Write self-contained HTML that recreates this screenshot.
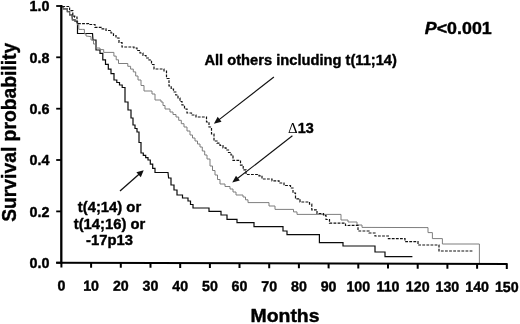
<!DOCTYPE html>
<html><head><meta charset="utf-8"><title>Survival probability</title>
<style>
html,body{margin:0;padding:0;background:#fff}
svg{display:block}
text{font-family:"Liberation Sans",sans-serif;font-weight:bold;fill:#000;stroke:#000;stroke-width:0.4px;stroke-linejoin:round}
</style></head><body>
<svg width="520" height="324" viewBox="0 0 520 324">
<rect width="520" height="324" fill="#fff"/>
<g fill="none" stroke-linejoin="miter">
<path d="M62.3 6.8L63.5 6.8L63.5 8.8L67.3 8.8L67.3 11.6L69.6 11.6L69.6 14.8L72.0 14.8L72.4 19.9L75.1 19.9L75.1 21.3L77.5 21.3L77.5 23.0L77.5 33.5L92.5 33.5L93.0 40.0L96.0 40.0L96.0 50.0L100.0 50.0L100.0 53.3L102.8 53.3L102.8 59.8L105.5 59.8L105.5 64.4L108.3 64.4L108.3 69.1L111.0 69.1L111.0 73.7L114.0 73.7L114.0 80.0L116.8 80.0L116.8 82.5L119.5 82.5L119.5 85.0L122.2 85.0L122.2 87.5L125.0 87.5L125.0 90.0L125.0 102.0L128.0 102.0L128.0 110.0L131.0 110.0L131.0 118.0L133.0 118.0L133.0 125.0L135.0 125.0L135.0 128.5L137.0 128.5L137.0 132.0L139.0 132.0L139.0 142.5L141.0 142.5L141.0 153.0L143.3 153.0L143.3 155.3L145.7 155.3L145.7 157.7L148.0 157.7L148.0 160.0L150.3 160.0L150.3 164.2L152.7 164.2L152.7 168.3L155.0 168.3L155.0 172.5L168.0 172.5L168.6 178.0L171.0 178.0L171.0 185.0L174.0 185.0L174.0 190.0L177.0 190.0L177.0 195.0L182.5 195.0L182.5 198.0L188.0 198.0L188.0 201.0L190.5 201.0L190.5 204.5L193.0 204.5L193.0 208.0L209.0 208.0L209.0 211.4L221.0 211.4L221.0 215.0L227.0 215.0L227.0 219.4L237.0 219.4L237.0 222.6L254.0 222.6L254.0 226.6L283.0 226.6L283.0 231.0L287.0 231.0L287.0 234.6L317.0 234.6L319.4 234.6L319.4 242.6L343.0 242.6L343.0 246.0L375.0 246.0L375.0 252.0L385.0 252.0L385.0 256.6L412.4 256.6" stroke="#0a0a0a" stroke-width="1.2"/>
<path d="M62.3 6.8L63.5 6.8L63.5 8.8L67.3 8.8L67.3 11.6L69.6 11.6L69.6 14.8L72.0 14.8L72.4 19.9L75.1 19.9L75.1 21.3L77.3 21.3L77.3 23.5L77.5 25.0L78.8 25.0L78.8 29.4L82.5 29.4L84.4 29.4L84.4 33.8L86.0 33.8L86.0 36.0L90.0 36.5L91.0 36.5L91.0 40.0L93.5 40.0L93.5 44.0L96.0 44.0L96.0 48.0L100.0 48.0L100.0 49.6L103.7 49.6L103.7 52.4L113.9 52.4L113.9 56.1L116.2 56.1L116.2 59.8L118.5 59.8L118.5 63.5L127.8 63.5L127.8 66.3L130.6 66.3L130.6 69.1L133.3 69.1L133.3 71.9L135.7 71.9L135.7 76.0L138.0 76.0L138.0 80.0L141.0 80.0L141.0 85.5L144.0 85.5L144.0 91.0L152.0 91.0L152.0 94.0L155.0 94.0L155.0 100.0L161.0 100.0L161.0 102.0L163.0 102.0L163.0 105.5L165.0 105.5L165.0 109.0L170.0 109.0L170.0 112.0L173.0 112.0L173.0 114.5L176.0 114.5L176.0 117.0L178.7 117.0L178.7 120.3L181.3 120.3L181.3 123.7L184.0 123.7L184.0 127.0L187.0 127.0L187.0 131.0L190.0 131.0L190.0 135.0L192.5 135.0L192.5 138.0L195.0 138.0L195.0 141.0L197.5 141.0L197.5 144.0L200.0 144.0L200.0 147.0L202.3 147.0L202.3 151.0L204.7 151.0L204.7 155.0L207.0 155.0L207.0 159.0L210.0 159.0L210.0 166.0L212.5 166.0L212.5 170.5L215.0 170.5L215.0 175.0L217.5 175.0L217.5 179.5L220.0 179.5L220.0 184.0L225.0 184.0L225.0 186.5L230.0 186.5L230.0 189.0L233.0 189.0L233.0 192.0L236.0 192.0L236.0 195.0L243.0 195.0L243.0 197.0L245.5 197.0L245.5 199.8L248.0 199.8L248.0 202.6L262.0 202.6L269.0 202.6L269.0 206.0L275.0 206.0L275.0 209.4L290.0 209.4L293.5 209.4L293.5 211.9L297.0 211.9L297.0 214.4L341.0 214.4L341.0 220.0L348.0 220.0L348.0 222.0L357.0 222.0L357.0 225.0L362.0 225.0L362.0 227.4L428.0 227.6L428.0 232.6L432.4 232.6L432.4 238.6L442.4 238.6L442.4 244.0L479.4 244.0L479.4 263.0" stroke="#777" stroke-width="0.95"/>
<path d="M62.3 6.5L69.6 6.5L69.6 10.6L72.8 10.6L72.8 16.2L74.7 16.2L74.7 17.1L77.0 17.1L77.0 19.0L77.0 23.6L84.0 23.6L88.5 23.6L88.5 24.5L95.0 24.5L95.0 27.4L101.0 27.4L101.0 28.8L106.0 28.8L106.0 30.5L111.0 30.5L111.0 33.0L113.5 33.0L113.5 35.5L116.0 35.5L116.0 38.0L119.0 38.0L119.0 42.5L122.0 42.5L122.0 47.0L134.0 47.0L134.0 48.0L137.0 48.0L137.0 50.5L140.0 50.5L140.0 53.0L143.0 53.0L143.0 55.5L146.0 55.5L146.0 58.0L149.0 58.0L149.0 60.0L151.5 60.0L151.5 64.5L154.0 64.5L154.0 69.0L164.0 69.0L164.0 71.0L166.5 71.0L166.5 78.5L169.0 78.5L169.0 86.0L171.2 86.0L171.2 89.0L173.5 89.0L173.5 92.0L175.8 92.0L175.8 95.0L178.0 95.0L178.0 98.0L180.0 98.0L180.0 101.5L182.0 101.5L182.0 105.0L184.5 105.0L184.5 109.0L187.0 109.0L187.0 113.0L191.5 113.0L191.5 115.0L196.0 115.0L196.0 117.0L204.0 117.0L206.5 117.0L206.5 122.0L209.0 122.0L209.0 127.0L211.5 127.0L211.5 134.0L214.0 134.0L214.0 141.0L217.0 141.0L217.0 143.2L220.0 143.2L220.0 145.5L223.0 145.5L223.0 147.8L226.0 147.8L226.0 150.0L228.5 150.0L228.5 152.5L231.0 152.5L231.0 155.0L233.0 155.0L233.0 160.4L237.7 160.4L240.5 160.4L240.5 165.1L243.2 165.1L243.2 169.8L246.0 169.8L246.0 174.5L259.0 174.5L259.0 175.8L262.0 175.8L262.0 179.0L272.0 179.0L272.0 180.8L279.0 180.8L279.0 183.0L284.0 183.0L284.0 185.5L290.5 185.5L290.5 188.0L293.0 188.0L293.0 193.0L295.5 193.0L295.5 198.8L300.0 198.8L300.0 202.0L309.5 202.0L309.5 204.2L311.8 204.2L311.8 209.9L317.0 209.9L317.0 213.5L323.5 213.5L323.5 215.5L326.0 215.5L326.0 219.5L329.5 219.5L329.5 223.2L343.5 223.2L345.5 223.2L345.5 225.5L355.0 225.4L358.0 225.4L358.0 231.0L367.0 231.0L369.0 231.0L369.0 233.0L373.0 233.0L375.0 233.0L375.0 236.0L388.4 236.0L388.4 238.6L405.0 238.6L405.0 241.6L418.0 241.6L418.0 245.0L439.0 245.0L439.0 251.0L472.4 251.0" stroke="#111" stroke-width="1.2" stroke-dasharray="2.8 1.3"/>
</g>
<g stroke="#000" stroke-width="2.4" fill="none">
<line x1="61.3" y1="5.1" x2="61.3" y2="263.5" stroke-width="2.3"/>
<line x1="56.2" y1="262.75" x2="507.6" y2="264.1" stroke-width="2"/>
</g>
<g stroke="#000" stroke-width="2" transform="translate(0 -0.17) skewY(0.165)"><line x1="61.4" y1="263" x2="61.4" y2="267.6"/><line x1="91.1" y1="263" x2="91.1" y2="267.6"/><line x1="120.8" y1="263" x2="120.8" y2="267.6"/><line x1="150.5" y1="263" x2="150.5" y2="267.6"/><line x1="180.2" y1="263" x2="180.2" y2="267.6"/><line x1="209.9" y1="263" x2="209.9" y2="267.6"/><line x1="239.5" y1="263" x2="239.5" y2="267.6"/><line x1="269.2" y1="263" x2="269.2" y2="267.6"/><line x1="298.9" y1="263" x2="298.9" y2="267.6"/><line x1="328.6" y1="263" x2="328.6" y2="267.6"/><line x1="358.3" y1="263" x2="358.3" y2="267.6"/><line x1="388.0" y1="263" x2="388.0" y2="267.6"/><line x1="417.7" y1="263" x2="417.7" y2="267.6"/><line x1="447.4" y1="263" x2="447.4" y2="267.6"/><line x1="477.1" y1="263" x2="477.1" y2="267.6"/><line x1="506.8" y1="263" x2="506.8" y2="267.6"/></g>
<g stroke="#000" stroke-width="1.8"><line x1="56.2" y1="6.0" x2="61" y2="6.0"/><line x1="56.2" y1="57.3" x2="61" y2="57.3"/><line x1="56.2" y1="108.7" x2="61" y2="108.7"/><line x1="56.2" y1="160.0" x2="61" y2="160.0"/><line x1="56.2" y1="211.4" x2="61" y2="211.4"/><line x1="56.2" y1="262.7" x2="61" y2="262.7"/></g>
<g font-size="14.5px" transform="translate(0 -0.17) skewY(0.165)"><text transform="translate(61.4 290.6) scale(0.98 1)" text-anchor="middle">0</text><text transform="translate(91.1 290.6) scale(0.98 1)" text-anchor="middle">10</text><text transform="translate(120.8 290.6) scale(0.98 1)" text-anchor="middle">20</text><text transform="translate(150.5 290.6) scale(0.98 1)" text-anchor="middle">30</text><text transform="translate(180.2 290.6) scale(0.98 1)" text-anchor="middle">40</text><text transform="translate(209.9 290.6) scale(0.98 1)" text-anchor="middle">50</text><text transform="translate(239.5 290.6) scale(0.98 1)" text-anchor="middle">60</text><text transform="translate(269.2 290.6) scale(0.98 1)" text-anchor="middle">70</text><text transform="translate(298.9 290.6) scale(0.98 1)" text-anchor="middle">80</text><text transform="translate(328.6 290.6) scale(0.98 1)" text-anchor="middle">90</text><text transform="translate(358.3 290.6) scale(0.98 1)" text-anchor="middle">100</text><text transform="translate(388.0 290.6) scale(0.98 1)" text-anchor="middle">110</text><text transform="translate(417.7 290.6) scale(0.98 1)" text-anchor="middle">120</text><text transform="translate(447.4 290.6) scale(0.98 1)" text-anchor="middle">130</text><text transform="translate(477.1 290.6) scale(0.98 1)" text-anchor="middle">140</text><text transform="translate(506.8 290.6) scale(0.98 1)" text-anchor="middle">150</text></g>
<g font-size="14.5px"><text transform="translate(49.4 11.4) scale(0.99 1)" text-anchor="end">1.0</text><text transform="translate(49.4 62.7) scale(0.99 1)" text-anchor="end">0.8</text><text transform="translate(49.4 114.1) scale(0.99 1)" text-anchor="end">0.6</text><text transform="translate(49.4 165.4) scale(0.99 1)" text-anchor="end">0.4</text><text transform="translate(49.4 216.8) scale(0.99 1)" text-anchor="end">0.2</text><text transform="translate(49.4 268.1) scale(0.99 1)" text-anchor="end">0.0</text></g>
<text transform="translate(285 321.5) scale(1.11 1)" font-size="17.5px" text-anchor="middle">Months</text>
<text transform="translate(15.6 132.3) rotate(-90)" font-size="19.3px" text-anchor="middle">Survival probability</text>
<text transform="translate(424.8 33.7) scale(1.05 1)" font-size="17px"><tspan font-style="italic">P</tspan>&lt;0.001</text>
<text transform="translate(204.4 64.8) scale(0.993 1)" font-size="14.8px">All others including t(11;14)</text>
<text x="288" y="132.6" font-size="14.4px"><tspan font-family="'Liberation Serif', serif" font-weight="normal" font-size="15px" stroke="none">Δ</tspan>13</text>
<g font-size="14.8px" text-anchor="middle">
<text x="109.5" y="212">t(4;14) or</text>
<text x="109.5" y="228.6">t(14;16) or</text>
<text x="109.5" y="245.1">-17p13</text>
</g>
<line x1="273.9" y1="77.0" x2="218.8" y2="119.9" stroke="#111" stroke-width="1.15"/><polygon points="213.9,123.7 217.7,116.8 221.5,121.7" fill="#111"/><line x1="292.4" y1="135.8" x2="237.1" y2="178.8" stroke="#111" stroke-width="1.15"/><polygon points="232.2,182.6 236.0,175.7 239.8,180.6" fill="#111"/><line x1="120.0" y1="191.1" x2="139.3" y2="174.1" stroke="#111" stroke-width="1.30"/><polygon points="143.7,170.3 140.8,177.3 136.4,172.3" fill="#111"/>
</svg>
</body></html>
